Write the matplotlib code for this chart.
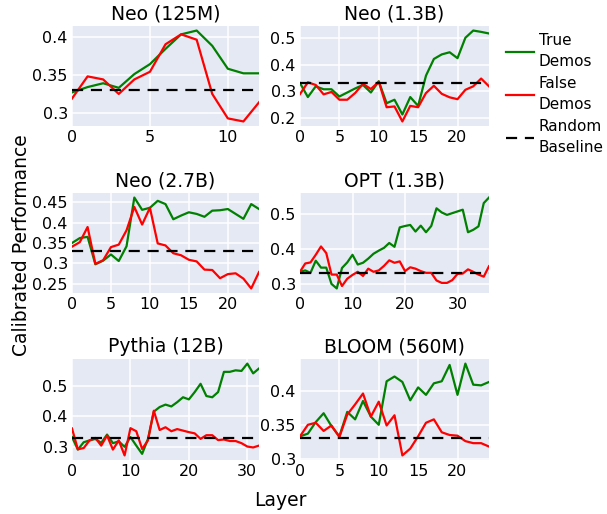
import matplotlib
matplotlib.use("Agg")
import matplotlib.pyplot as plt
from matplotlib.ticker import FuncFormatter
from matplotlib.lines import Line2D

titles = ["Neo (125M)", "Neo (1.3B)", "Neo (2.7B)", "OPT (1.3B)", "Pythia (12B)", "BLOOM (560M)"]

neo125_true = [0.327, 0.334, 0.339, 0.333, 0.351, 0.364, 0.384, 0.403, 0.408, 0.388, 0.358, 0.352, 0.352]
neo125_false = [0.319, 0.348, 0.344, 0.325, 0.344, 0.354, 0.390, 0.403, 0.396, 0.325, 0.293, 0.289, 0.314]

neo13_true = [0.331, 0.279, 0.319, 0.308, 0.308, 0.281, 0.296, 0.311, 0.324, 0.296, 0.338, 0.256, 0.269,
              0.214, 0.279, 0.246, 0.359, 0.421, 0.438, 0.446, 0.424, 0.500, 0.527, 0.522, 0.516]
neo13_false = [0.290, 0.334, 0.324, 0.289, 0.298, 0.269, 0.269, 0.294, 0.328, 0.309, 0.336, 0.241, 0.244,
               0.188, 0.246, 0.241, 0.294, 0.321, 0.291, 0.278, 0.271, 0.306, 0.319, 0.348, 0.319]

neo27_true = [0.350, 0.362, 0.365, 0.298, 0.307, 0.322, 0.306, 0.342, 0.461, 0.431, 0.436, 0.453, 0.445,
              0.408, 0.417, 0.425, 0.421, 0.414, 0.429, 0.430, 0.433, 0.421, 0.409, 0.445, 0.433]
neo27_false = [0.341, 0.352, 0.389, 0.299, 0.308, 0.340, 0.346, 0.381, 0.438, 0.395, 0.436, 0.349, 0.344,
               0.325, 0.320, 0.309, 0.305, 0.285, 0.284, 0.264, 0.274, 0.276, 0.263, 0.239, 0.279]

opt_true = [0.334, 0.338, 0.331, 0.366, 0.346, 0.346, 0.299, 0.286, 0.345, 0.361, 0.383, 0.355, 0.360,
            0.372, 0.386, 0.395, 0.403, 0.417, 0.406, 0.462, 0.466, 0.469, 0.450, 0.467, 0.448, 0.466,
            0.517, 0.505, 0.498, 0.503, 0.508, 0.513, 0.448, 0.455, 0.465, 0.532, 0.548]
opt_false = [0.334, 0.358, 0.361, 0.383, 0.407, 0.388, 0.326, 0.326, 0.293, 0.314, 0.325, 0.334, 0.322,
             0.343, 0.334, 0.338, 0.351, 0.367, 0.360, 0.364, 0.336, 0.347, 0.343, 0.336, 0.331, 0.331,
             0.309, 0.302, 0.302, 0.310, 0.328, 0.329, 0.341, 0.334, 0.326, 0.320, 0.350]

pythia_true = [0.332, 0.291, 0.315, 0.321, 0.326, 0.313, 0.340, 0.312, 0.318, 0.300, 0.332, 0.304, 0.277,
               0.326, 0.415, 0.430, 0.438, 0.432, 0.446, 0.462, 0.455, 0.479, 0.506, 0.466, 0.462, 0.479,
               0.545, 0.545, 0.550, 0.548, 0.572, 0.540, 0.556]
pythia_false = [0.360, 0.292, 0.296, 0.321, 0.329, 0.304, 0.337, 0.291, 0.321, 0.272, 0.361, 0.351, 0.293,
                0.321, 0.418, 0.355, 0.364, 0.351, 0.358, 0.353, 0.348, 0.344, 0.326, 0.338, 0.338, 0.322,
                0.324, 0.319, 0.319, 0.312, 0.301, 0.298, 0.304]

bloom_true = [0.333, 0.337, 0.354, 0.367, 0.348, 0.333, 0.369, 0.358, 0.385, 0.362, 0.350, 0.414, 0.421,
              0.413, 0.386, 0.405, 0.394, 0.411, 0.414, 0.438, 0.394, 0.440, 0.409, 0.408, 0.413]
bloom_false = [0.333, 0.350, 0.353, 0.341, 0.349, 0.332, 0.365, 0.380, 0.396, 0.362, 0.384, 0.349, 0.364,
               0.305, 0.315, 0.333, 0.353, 0.358, 0.339, 0.335, 0.334, 0.326, 0.323, 0.323, 0.318]

baseline = 0.33

series = [
    (neo125_true, neo125_false),
    (neo13_true, neo13_false),
    (neo27_true, neo27_false),
    (opt_true, opt_false),
    (pythia_true, pythia_false),
    (bloom_true, bloom_false),
]
yticks = [
    [0.3, 0.35, 0.4],
    [0.2, 0.3, 0.4, 0.5],
    [0.25, 0.3, 0.35, 0.4, 0.45],
    [0.3, 0.4, 0.5],
    [0.3, 0.4, 0.5],
    [0.3, 0.35, 0.4],
]
xticks = [
    [0, 5, 10],
    [0, 5, 10, 15, 20],
    [0, 5, 10, 15, 20],
    [0, 10, 20, 30],
    [0, 10, 20, 30],
    [0, 5, 10, 15, 20],
]

W, H = 607, 514
fig = plt.figure(figsize=(W / 100, H / 100), dpi=100)

col_lr = [(72, 259), (300, 489)]
row_tb = [(26, 126), (193, 293), (359, 460)]

bg = "#E4E9F3"
fmt = FuncFormatter(lambda v, p: ("%g" % round(v, 4)))

for i, (title, (tr, fa)) in enumerate(zip(titles, series)):
    r, c = divmod(i, 2)
    l, rr = col_lr[c]
    t, b = row_tb[r]
    ax = fig.add_axes([l / W, 1 - b / H, (rr - l) / W, (b - t) / H])
    ax.set_facecolor(bg)
    x = list(range(len(tr)))
    ax.plot(x, tr, color="green", lw=1.6, zorder=3)
    ax.plot(x, fa, color="red", lw=1.6, zorder=3)
    ax.axhline(baseline, color="black", ls=(0, (5, 3.5)), lw=1.6, zorder=4)
    ax.set_xlim(0, len(tr) - 1)
    ax.set_xticks(xticks[i])
    ax.set_yticks(yticks[i])
    ax.yaxis.set_major_formatter(fmt)
    lo = min(min(tr), min(fa), baseline)
    hi = max(max(tr), max(fa), baseline)
    pad = (hi - lo) * 0.05
    ax.set_ylim(lo - pad, hi + pad)
    ax.grid(True, color="white", lw=1.1)
    ax.set_axisbelow(True)
    for s in ax.spines.values():
        s.set_visible(False)
    ax.tick_params(length=0, labelsize=11.5, pad=3)
    ax.set_title(title, fontsize=13.5, pad=5)

fig.text(22 / W, 1 - 245 / H, "Calibrated Performance", rotation=90, ha="center", va="center", fontsize=13.5)
fig.text(280 / W, 1 - 500 / H, "Layer", ha="center", va="center", fontsize=13.5)

handles = [
    Line2D([], [], color="green", lw=1.6),
    Line2D([], [], color="red", lw=1.6),
    Line2D([], [], color="black", lw=1.6, ls=(0, (5, 3.5))),
]
leg = fig.legend(handles, ["True\nDemos", "False\nDemos", "Random\nBaseline"], loc="upper left",
                 bbox_to_anchor=(500 / W, 1 - 27 / H), frameon=False, fontsize=11,
                 handlelength=1.8, handletextpad=0.35, labelspacing=0.45, borderaxespad=0)
for txt in leg.get_texts():
    txt.set_linespacing(1.5)

fig.savefig("out.png", dpi=100)
